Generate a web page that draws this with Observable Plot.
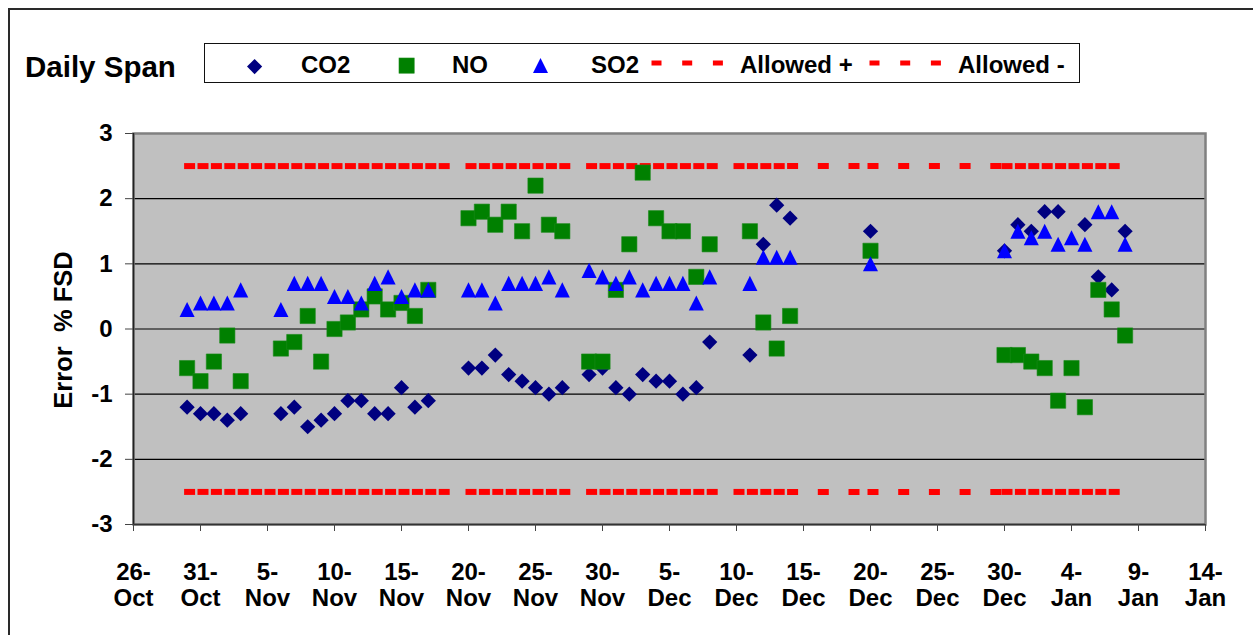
<!DOCTYPE html>
<html>
<head>
<meta charset="utf-8">
<script src="https://cdn.jsdelivr.net/npm/d3@7"></script>
<script src="https://cdn.jsdelivr.net/npm/@observablehq/plot@0.6"></script>
<style>
  html, body { margin: 0; padding: 0; background: #fff; overflow: hidden; }
  #root { position: relative; width: 1253px; height: 635px; overflow: hidden;
          font-family: "Liberation Sans", Arial, sans-serif; font-weight: bold; color: #000; }
  #chart { position: absolute; left: 0; top: 0; }
  .abs { position: absolute; white-space: pre; }
  .lt { font-size: 24px; line-height: 24px; }
  #outer { position: absolute; left: 8px; top: 8px; width: 1280px; height: 700px;
           border: 2px solid #2a2a2a; box-sizing: border-box; pointer-events: none; }
</style>
</head>
<body>
<div id="root">
  <div id="chart"></div>
  <div id="outer"></div>
  <div class="abs" id="title" style="left:25px; top:52px; font-size:29.5px; line-height:29.5px;">Daily Span</div>
  <div class="abs" id="ylabel" style="left:63px; top:330px; font-size:25.5px; line-height:26px; transform: translate(-50%,-50%) rotate(-90deg);">Error  % FSD</div>
  <div id="legend" class="abs" style="left:204px; top:43px; width:876px; height:40px; border:1px solid #111; box-sizing:border-box; background:#fff;"></div>
</div>
<script>
// ---------- data ----------
const tickDates = ["2004-10-26","2004-10-31","2004-11-05","2004-11-10","2004-11-15","2004-11-20","2004-11-25","2004-11-30","2004-12-05","2004-12-10","2004-12-15","2004-12-20","2004-12-25","2004-12-30","2005-01-04","2005-01-09","2005-01-14"];
const yTicks = [-3, -2, -1, 0, 1, 2, 3];
const gridValues = [-2, -1, 0, 1, 2];

const obsDates = [
  "2004-10-30","2004-10-31","2004-11-01","2004-11-02","2004-11-03",
  "2004-11-06","2004-11-07","2004-11-08","2004-11-09","2004-11-10","2004-11-11","2004-11-12","2004-11-13","2004-11-14","2004-11-15","2004-11-16","2004-11-17",
  "2004-11-20","2004-11-21","2004-11-22","2004-11-23","2004-11-24","2004-11-25","2004-11-26","2004-11-27",
  "2004-11-29","2004-11-30","2004-12-01","2004-12-02","2004-12-03","2004-12-04","2004-12-05","2004-12-06","2004-12-07","2004-12-08",
  "2004-12-11","2004-12-12","2004-12-13","2004-12-14",
  "2004-12-20",
  "2004-12-30","2004-12-31","2005-01-01","2005-01-02","2005-01-03","2005-01-04","2005-01-05","2005-01-06","2005-01-07","2005-01-08"
];
const co2 = [
  -1.2,-1.3,-1.3,-1.4,-1.3,
  -1.3,-1.2,-1.5,-1.4,-1.3,-1.1,-1.1,-1.3,-1.3,-0.9,-1.2,-1.1,
  -0.6,-0.6,-0.4,-0.7,-0.8,-0.9,-1.0,-0.9,
  -0.7,-0.6,-0.9,-1.0,-0.7,-0.8,-0.8,-1.0,-0.9,-0.2,
  -0.4,1.3,1.9,1.7,
  1.5,
  1.2,1.6,1.5,1.8,1.8,null,1.6,0.8,0.6,1.5
];
const no = [
  -0.6,-0.8,-0.5,-0.1,-0.8,
  -0.3,-0.2,0.2,-0.5,0.0,0.1,0.3,0.5,0.3,0.4,0.2,0.6,
  1.7,1.8,1.6,1.8,1.5,2.2,1.6,1.5,
  -0.5,-0.5,0.6,1.3,2.4,1.7,1.5,1.5,0.8,1.3,
  1.5,0.1,-0.3,0.2,
  1.2,
  -0.4,-0.4,-0.5,-0.6,-1.1,-0.6,-1.2,0.6,0.3,-0.1
];
const so2 = [
  0.3,0.4,0.4,0.4,0.6,
  0.3,0.7,0.7,0.7,0.5,0.5,0.4,0.7,0.8,0.5,0.6,0.6,
  0.6,0.6,0.4,0.7,0.7,0.7,0.8,0.6,
  0.9,0.8,0.7,0.8,0.6,0.7,0.7,0.7,0.4,0.8,
  0.7,1.1,1.1,1.1,
  1.0,
  1.2,1.5,1.4,1.5,1.3,1.4,1.3,1.8,1.8,1.3
];

// rows of the "Allowed" series; null = blank row (line break)
const allowedDates = [
  "2004-10-30","2004-10-31","2004-11-01","2004-11-02","2004-11-03","2004-11-04","2004-11-05","2004-11-06","2004-11-07","2004-11-08","2004-11-09","2004-11-10","2004-11-11","2004-11-12","2004-11-13","2004-11-14","2004-11-15","2004-11-16","2004-11-17","2004-11-18","2004-11-19",
  null,
  "2004-11-20","2004-11-21","2004-11-22","2004-11-23","2004-11-24","2004-11-25","2004-11-26","2004-11-27","2004-11-28",
  null,
  "2004-11-29","2004-11-30","2004-12-01","2004-12-02","2004-12-03","2004-12-04","2004-12-05","2004-12-06","2004-12-07","2004-12-08","2004-12-09",
  null,
  "2004-12-10","2004-12-11","2004-12-12","2004-12-13","2004-12-14","2004-12-20","2004-12-30","2004-12-31","2005-01-01","2005-01-02","2005-01-03","2005-01-04","2005-01-05","2005-01-06","2005-01-07","2005-01-08"
];
const allowedPlus = 2.5;
const allowedMinus = -2.5;

const seriesNames = ["CO2", "NO", "SO2", "Allowed +", "Allowed -"];
const colors = {CO2: "#000080", NO: "#008000", SO2: "#0000FF", allowed: "#FF0000"};

// ---------- symbols (Excel-like, bounding box centred) ----------
const diamondSym = {draw(ctx, size) { const h = Math.sqrt(size) / 2; ctx.moveTo(0, -h); ctx.lineTo(h, 0); ctx.lineTo(0, h); ctx.lineTo(-h, 0); ctx.closePath(); }};
const squareSym = {draw(ctx, size) { const h = Math.sqrt(size) / 2; ctx.moveTo(-h, -h); ctx.lineTo(h, -h); ctx.lineTo(h, h); ctx.lineTo(-h, h); ctx.closePath(); }};
const triangleSym = {draw(ctx, size) { const h = Math.sqrt(size) / 2; ctx.moveTo(0, -h); ctx.lineTo(h, h); ctx.lineTo(-h, h); ctx.closePath(); }};

// ---------- build tables ----------
const parse = d3.utcParse("%Y-%m-%d");
const ticks = tickDates.map(parse);
function rows(values) {
  return obsDates.map((d, i) => ({date: parse(d), value: values[i]})).filter(r => r.value != null);
}
const co2Rows = rows(co2), noRows = rows(no), so2Rows = rows(so2);

function allowedSegments(level) {
  const out = [];
  for (let i = 0; i < allowedDates.length - 1; i++) {
    if (allowedDates[i] && allowedDates[i + 1]) {
      out.push({date: parse(allowedDates[i]), value: level, seg: i});
      out.push({date: parse(allowedDates[i + 1]), value: level, seg: i});
    }
  }
  return out;
}
const plusSegs = allowedSegments(allowedPlus);
const minusSegs = allowedSegments(allowedMinus);

const fmtDay = d3.utcFormat("%-d");
const fmtMon = d3.utcFormat("%b");

const lineStyle = {stroke: colors.allowed, strokeWidth: 6, strokeDasharray: "5,25.7", strokeLinecap: "square"};

const chart = Plot.plot({
  width: 1253,
  height: 635,
  marginLeft: 133,
  marginRight: 48,
  marginTop: 133,
  marginBottom: 111,
  style: {fontFamily: "'Liberation Sans', Arial, sans-serif", fontSize: "24px", fontWeight: "bold", background: "transparent", color: "#000", overflow: "visible"},
  x: {type: "utc", domain: [ticks[0], ticks[ticks.length - 1]]},
  y: {domain: [yTicks[0], yTicks[yTicks.length - 1]]},
  marks: [
    Plot.frame({fill: "#C0C0C0"}),
    Plot.ruleY(gridValues, {stroke: "#000", strokeWidth: 1.2}),
    Plot.line(plusSegs, {x: "date", y: "value", z: "seg", ...lineStyle}),
    Plot.line(minusSegs, {x: "date", y: "value", z: "seg", ...lineStyle}),
    Plot.dot(co2Rows, {x: "date", y: "value", symbol: diamondSym, r: 8.6, fill: colors.CO2}),
    Plot.dot(noRows, {x: "date", y: "value", symbol: squareSym, r: 8.6, fill: colors.NO, stroke: "#1a8a1a", strokeWidth: 0.6}),
    Plot.dot(so2Rows, {x: "date", y: "value", symbol: triangleSym, r: 8.5, fill: colors.SO2}),
    Plot.frame({stroke: "#808080", strokeWidth: 2.5}),
    Plot.ruleX([ticks[0]], {stroke: "#222", strokeWidth: 1.5}),
    Plot.ruleY([yTicks[0]], {stroke: "#333", strokeWidth: 1.5}),
    Plot.axisX({ticks: ticks, tickFormat: d => `${fmtDay(d)}-\n${fmtMon(d)}`, tickSize: 7, tickPadding: 30, lineHeight: 1.08, label: null, stroke: "#444"}),
    Plot.axisY({ticks: yTicks, tickFormat: d => String(d), tickSize: 8, tickPadding: 13, label: null, stroke: "#444"})
  ]
});
document.getElementById("chart").appendChild(chart);

// ---------- legend ----------
const legend = document.getElementById("legend");
const lx = 204, ly = 43; // legend box origin on the page
function addSvg(html, left, top, w, h) {
  const s = document.createElementNS("http://www.w3.org/2000/svg", "svg");
  s.setAttribute("width", w); s.setAttribute("height", h);
  s.style.position = "absolute"; s.style.left = (left - lx) + "px"; s.style.top = (top - ly) + "px"; s.style.overflow = "visible";
  s.innerHTML = html;
  legend.appendChild(s);
}
function addText(txt, left) {
  const d = document.createElement("div");
  d.className = "abs lt"; d.textContent = txt;
  d.style.left = (left - lx) + "px"; d.style.top = (52 - ly) + "px";
  legend.appendChild(d);
}
addSvg(`<path d="M7.6,0L15.2,7.6L7.6,15.2L0,7.6Z" fill="${colors.CO2}"/>`, 245.5, 57.5, 16, 16);
addText(seriesNames[0], 300);
addSvg(`<rect x="0" y="0" width="15.2" height="15.2" fill="${colors.NO}" stroke="#1a8a1a" stroke-width="0.6"/>`, 398, 57, 16, 16);
addText(seriesNames[1], 451);
addSvg(`<path d="M7.5,0L15,15L0,15Z" fill="${colors.SO2}"/>`, 531.5, 56.5, 15, 15);
addText(seriesNames[2], 590);
addSvg(`<line x1="3" y1="3" x2="72" y2="3" stroke="${colors.allowed}" stroke-width="5" stroke-dasharray="5,25.7" stroke-linecap="square"/>`, 650, 58.7, 80, 6);
addText(seriesNames[3], 739);
addSvg(`<line x1="3" y1="3" x2="72" y2="3" stroke="${colors.allowed}" stroke-width="5" stroke-dasharray="5,25.7" stroke-linecap="square"/>`, 868, 58.7, 80, 6);
addText(seriesNames[4], 957);
</script>
</body>
</html>
